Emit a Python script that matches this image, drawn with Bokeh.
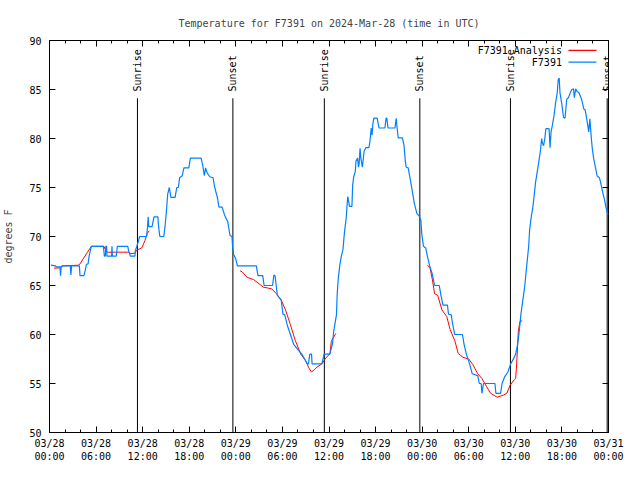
import math
from bokeh.plotting import figure
from bokeh.models import Range1d, FixedTicker, LinearAxis, Label, BoxAnnotation
from bokeh.core.properties import value
from bokeh.embed import file_html
from bokeh.resources import INLINE

NAN = float("nan")

# ---- data (hours since 2024-03-28 00:00 UTC, degrees F) ----
HOURS_F7391 = [
    0.17, 0.79, 0.85, 1.35, 1.42, 1.5, 1.71, 2.68, 2.76, 2.84, 3.85, 3.93, 4.43, 4.56, 4.77, 4.97,
    5.1, 5.39, 6.94, 7.07, 7.2, 7.25, 7.35, 7.4, 8.0, 8.05, 8.1, 8.6, 8.74, 10.08, 10.2, 10.41,
    11.0, 11.04, 11.25, 11.45, 11.6, 12.5, 12.63, 12.71, 12.79, 13.21, 13.46, 13.96, 14.05, 14.21,
    14.72, 14.88, 15.05, 15.22, 15.43, 15.64, 16.18, 16.39, 16.6, 16.76, 17.1, 17.31, 17.94, 18.15,
    19.52, 19.73, 19.94, 20.1, 20.3, 20.65, 21.07, 21.28, 21.62, 21.83, 22.24, 22.54, 22.96, 23.25,
    23.5, 23.58, 23.7, 24.0, 24.2, 26.64, 26.85, 27.47, 27.64, 28.73, 28.9, 29.05, 29.2, 29.35,
    29.85, 30.06, 30.3, 30.61, 31.03, 31.45, 31.95, 32.5, 32.85, 33.2, 33.35, 33.53, 33.75, 33.82,
    35.08, 35.37, 36.1, 36.46, 36.6, 36.75, 36.96, 37.05, 37.17, 37.38, 37.59, 37.8, 38.0, 38.21,
    38.34, 38.42, 38.55, 38.63, 38.95, 39.05, 39.18, 39.39, 39.47, 39.68, 39.8, 39.89, 40.0, 40.1,
    40.3, 40.52, 40.73, 41.14, 41.27, 41.44, 41.55, 41.65, 41.78, 42.2, 42.45, 43.2, 43.35, 43.45,
    43.6, 44.5, 44.65, 44.91, 45.45, 45.66, 45.83, 45.95, 46.2, 46.35, 46.58, 46.79, 47.0, 47.33,
    47.63, 47.83, 47.96, 48.17, 48.46, 48.67, 48.97, 49.3, 49.6, 50.2, 50.42, 50.68, 51.26, 51.39,
    51.75, 51.9, 52.2, 53.19, 53.4, 53.69, 54.11, 54.44, 55.15, 55.36, 55.6, 55.7, 55.9, 57.37,
    57.5, 58.1, 58.29, 58.62, 59.04, 59.4, 59.75, 60.04, 60.29, 60.46, 60.59, 60.71, 60.88, 61.05,
    61.22, 61.38, 61.55, 61.72, 61.84, 62.05, 62.26, 62.47, 62.6, 62.77, 62.97, 63.22, 63.39, 63.5,
    63.64, 63.8, 63.93, 64.35, 64.47, 64.6, 64.77, 64.98, 65.19, 65.4, 65.52, 65.65, 65.75, 65.99,
    66.2, 66.4, 66.62, 66.85, 67.07, 67.28, 67.49, 67.6, 67.77, 67.95, 68.2, 68.53, 68.83, 69.0,
    69.2, 69.45, 69.6, 69.79, 69.91, 70.08, 70.33, 70.54, 70.83, 71.04, 71.25, 71.46, 71.67, 71.88,
    72.0,
]
TEMP_F7391 = [
    67.07, 67.0, 66.9, 66.9, 66.0, 66.9, 67.0, 67.0, 66.07, 67.0, 67.0, 66.0, 66.0, 66.4, 67.17, 67.2,
    68.0, 69.0, 69.0, 68.0, 68.0, 69.0, 69.0, 68.0, 68.0, 69.0, 68.0, 68.0, 69.0, 69.0, 68.5, 68.0,
    68.0, 68.5, 69.0, 69.5, 70.0, 70.0, 71.0, 72.0, 71.0, 71.0, 72.0, 72.0, 71.0, 70.0,
    70.0, 71.0, 72.5, 74.3, 75.0, 74.0, 74.0, 75.0, 75.0, 76.0, 76.2, 77.0, 77.0, 78.0,
    78.0, 77.3, 76.2, 77.0, 76.5, 76.1, 76.0, 75.0, 74.0, 73.0, 73.0, 72.2, 71.5, 70.1,
    70.0, 69.0, 68.2, 67.7, 67.0, 67.0, 66.0, 66.0, 65.0, 65.0, 66.07, 66.0, 65.0, 64.0,
    63.5, 62.1, 62.0, 61.0, 60.0, 59.0, 58.5, 58.0, 57.5, 57.0, 57.0, 58.0, 58.0, 57.0,
    57.0, 58.0, 58.0, 59.07, 60.3, 61.0, 62.0, 64.0, 65.5, 67.0, 68.0, 68.67, 70.5, 71.83,
    73.33, 74.07, 73.5, 73.07, 73.07, 75.27, 76.07, 76.67, 77.67, 78.0, 77.07, 77.5, 79.0, 78.0,
    77.07, 78.67, 79.07, 79.07, 79.67, 81.07, 80.33, 81.5, 82.07, 82.07, 81.07, 81.07, 82.07, 82.07,
    81.07, 81.07, 82.07, 80.07, 80.07, 79.33, 77.67, 77.07, 77.0, 76.33, 75.33, 74.33, 73.33, 72.33,
    72.07, 71.67, 70.17, 69.0, 68.83, 68.0, 67.0, 66.17, 65.0, 65.0, 64.0, 63.0, 63.0, 62.07,
    62.0, 61.17, 60.0, 60.0, 59.0, 58.0, 57.0, 56.0, 55.8, 55.0, 55.0, 54.0, 55.0, 55.0,
    54.0, 54.0, 55.0, 55.67, 56.17, 57.0, 57.5, 58.0, 59.0, 60.0, 61.0, 62.0, 63.0, 64.0,
    65.0, 66.33, 67.67, 69.0, 70.67, 72.0, 73.0, 74.5, 75.5, 76.33, 77.33, 78.67, 80.0, 79.5,
    79.27, 80.0, 81.0, 81.0, 79.07, 80.67, 81.33, 82.33, 83.67, 84.67, 86.0, 86.17, 84.67, 83.5,
    82.17, 82.07, 84.0, 84.17, 84.67, 85.0, 85.07, 84.17, 85.07, 84.8, 84.67, 84.0, 83.0, 82.9,
    82.0, 80.67, 82.0, 80.0, 79.0, 78.0, 77.0, 76.17, 76.0, 75.33, 74.5, 73.83, 73.0, 72.33,
    72.2,
]

HOURS_ANALYSIS = [
    0.58, 1.3, 1.6, 3.7, 3.93, 4.4, 4.9, 5.39, 7.0, 7.3, 7.5, 10.2, 10.5, 11.0, 11.25, 11.9, 12.3,
    12.6, 12.84, NAN,
    24.55, 24.8, 25.46, 26.3, 27.55, 28.6, 29.22, 29.85, 30.4, 31.03, 31.65, 32.36, 32.99, 33.4,
    33.74, 34.1, 34.45, 35.08, 35.5, 36.13, 36.3, 36.5, 36.88, NAN,
    48.67, 49.0, 49.3, 49.6, 50.0, 50.55, 51.17, 51.6, 52.22, 52.64, 53.27, 54.0, 54.52, 55.15,
    55.7, 56.3, 56.82, 57.66, 58.5, 58.9, 59.33, 59.88, 60.04, 60.17, 60.29, 60.38, 60.59, 60.88,
]
TEMP_ANALYSIS = [
    66.77, 66.8, 67.0, 67.07, 67.2, 67.8, 68.4, 69.0, 69.0, 68.5, 68.4, 68.4, 68.25, 68.3, 68.6,
    68.85, 69.6, 70.3, 70.6, NAN,
    66.5, 66.4, 65.83, 65.6, 64.83, 64.67, 64.17, 63.5, 62.5, 61.0, 59.4, 58.0, 57.33, 56.6,
    56.17, 56.4, 56.67, 57.0, 57.5, 58.07, 59.3, 59.6, 60.1, NAN,
    67.07, 66.83, 65.67, 64.17, 64.0, 62.5, 61.83, 60.5, 59.33, 58.07, 57.67, 57.5, 56.93, 56.0,
    55.5, 54.67, 54.0, 53.6, 53.83, 54.0, 54.83, 55.4, 55.5, 57.0, 58.83, 60.33, 61.33, 61.4,
]

SUNRISE_HOURS = [11.33, 35.4, 59.37]
SUNSET_HOURS = [23.62, 47.7, 71.83]

X_TICKS = [0, 6, 12, 18, 24, 30, 36, 42, 48, 54, 60, 66, 72]
X_MINOR_TICKS = list(range(0, 73, 2))
X_TICK_LABELS = [
    "03/28\n00:00", "03/28\n06:00", "03/28\n12:00", "03/28\n18:00",
    "03/29\n00:00", "03/29\n06:00", "03/29\n12:00", "03/29\n18:00",
    "03/30\n00:00", "03/30\n06:00", "03/30\n12:00", "03/30\n18:00",
    "03/31\n00:00",
]
Y_TICKS = [50, 55, 60, 65, 70, 75, 80, 85, 90]

TITLE = "Temperature for F7391 on 2024-Mar-28 (time in UTC)"
SERIES_NAMES = ["F7391 Analysis", "F7391"]

# ---- style ----
FONT = "DejaVu Sans Mono"
FS = "10px"
BLUE = "#0080ff"
RED = "#ff0000"
SUN_LINE_TOP = 84.1
SUN_LABEL_Y = 84.8

p = figure(width=624, height=464, output_backend="svg", toolbar_location=None,
           x_range=Range1d(0, 72), y_range=Range1d(50, 90),
           min_border_left=47, min_border_right=16, min_border_top=40, min_border_bottom=30,
           title=TITLE, background_fill_color="white", border_fill_color="white")
p.grid.visible = False
p.outline_line_color = "black"
p.outline_line_width = 1
p.title.text_font = FONT
p.title.text_font_size = FS
p.title.text_font_style = "normal"
p.title.align = "center"
p.title.standoff = 23

xt = FixedTicker(ticks=X_TICKS, minor_ticks=X_MINOR_TICKS)
yt = FixedTicker(ticks=Y_TICKS, minor_ticks=[])

def style_axis(ax, ticker, show_labels):
    ax.ticker = ticker
    ax.axis_line_color = None
    ax.major_tick_in = 6
    ax.major_tick_out = 0
    ax.minor_tick_in = 3
    ax.minor_tick_out = 0
    ax.major_tick_line_color = "black"
    ax.minor_tick_line_color = "black"
    if show_labels:
        ax.major_label_text_font = FONT
        ax.major_label_text_font_size = FS
        ax.major_label_text_color = "black"
    else:
        ax.major_label_text_font_size = "0px"
        ax.major_label_standoff = 0

xa = p.xaxis[0]
style_axis(xa, xt, True)
xa.major_label_overrides = {t: lab for t, lab in zip(X_TICKS, X_TICK_LABELS)}
xa.major_label_standoff = 5

ya = p.yaxis[0]
style_axis(ya, yt, True)
ya.major_label_standoff = 8
ya.axis_label = "degrees F"
ya.axis_label_text_font = FONT
ya.axis_label_text_font_size = FS
ya.axis_label_text_font_style = "normal"
ya.axis_label_standoff = 12

top_ax = LinearAxis()
style_axis(top_ax, xt, False)
top_ax.major_label_overrides = {t: "" for t in X_TICKS}
p.add_layout(top_ax, "above")

right_ax = LinearAxis()
style_axis(right_ax, yt, False)
right_ax.major_label_overrides = {t: "" for t in Y_TICKS}
p.add_layout(right_ax, "right")

# sunrise / sunset markers
sun_x = SUNRISE_HOURS + SUNSET_HOURS
sun_txt = ["Sunrise"] * len(SUNRISE_HOURS) + ["Sunset"] * len(SUNSET_HOURS)
p.segment(x0=sun_x, y0=[50] * len(sun_x), x1=sun_x, y1=[SUN_LINE_TOP] * len(sun_x),
          line_color="black", line_width=1)
p.text(x=sun_x, y=[SUN_LABEL_Y] * len(sun_x), text=sun_txt, angle=math.pi / 2,
       text_align="left", text_baseline="middle", text_font=value(FONT),
       text_font_size=value(FS), text_color="black")

# series
p.line(HOURS_ANALYSIS, TEMP_ANALYSIS, line_color=RED, line_width=1)
p.line(HOURS_F7391, TEMP_F7391, line_color=BLUE, line_width=1.2)

# gnuplot-style key (text left, sample right)
LEG_TEXT_X = 66.0
LEG_LINE_X0 = 66.85
LEG_LINE_X1 = 70.45
LEG_ROWS_Y = [89.0, 87.8]
for name, color, yy in zip(SERIES_NAMES, [RED, BLUE], LEG_ROWS_Y):
    p.add_layout(Label(x=LEG_TEXT_X, y=yy, text=name, text_align="right", text_baseline="middle",
                       text_font=FONT, text_font_size=FS, text_color="black"))
    p.add_layout(BoxAnnotation(left=LEG_LINE_X0, right=LEG_LINE_X1, bottom=yy - 0.06, top=yy + 0.06,
                               fill_color=color, fill_alpha=1.0, line_color=None))

open("out.html", "w").write(file_html(p, INLINE))
